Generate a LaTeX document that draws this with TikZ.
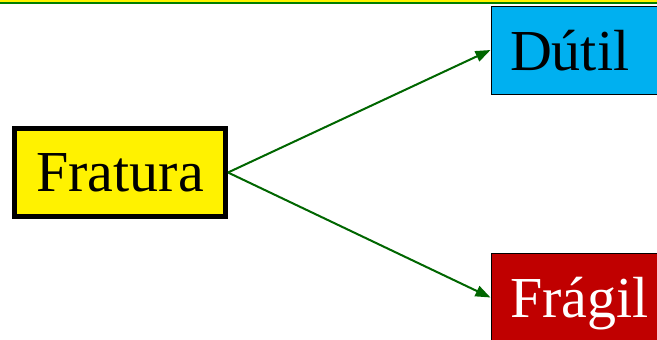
\documentclass[tikz,border=0pt]{standalone}
\usepackage{fontspec}
\setmainfont{Liberation Serif}
\usetikzlibrary{arrows.meta}
\definecolor{dutilblue}{RGB}{0,176,240}
\definecolor{fragilred}{RGB}{192,0,0}
\definecolor{arrgreen}{RGB}{0,102,0}
\begin{document}
\begin{tikzpicture}[x=1pt, y=-1pt,
    box/.style={draw, font=\fontsize{58}{62}\selectfont, text depth=0pt},
    branch/.style={box, line width=1pt, anchor=west, text width=180pt, align=left,
                   inner xsep=19pt, minimum height=88pt},
    arr/.style={-{Triangle[length=15pt, width=11pt]}, line width=2pt, draw=arrgreen},
  ]
  \useasboundingbox (0,0) rectangle (657,340);
  % top rule
  \fill[yellow] (0,0) rectangle (657,1.5);
  \fill[green!50!black] (0,1.5) rectangle (657,3.5);
  \node[box, fill=yellow, line width=5pt, minimum width=211pt, minimum height=88pt] (fratura) at (120,172.5) {Fratura};
  \node[branch, fill=dutilblue] (dutil) at (490.5,50) {Dútil};
  \node[branch, fill=fragilred, text=white] (fragil) at (490.5,297.5) {Frágil};
  \draw[arr] (fratura.east) -- (dutil.west);
  \draw[arr] (fratura.east) -- (fragil.west);
\end{tikzpicture}
\end{document}
